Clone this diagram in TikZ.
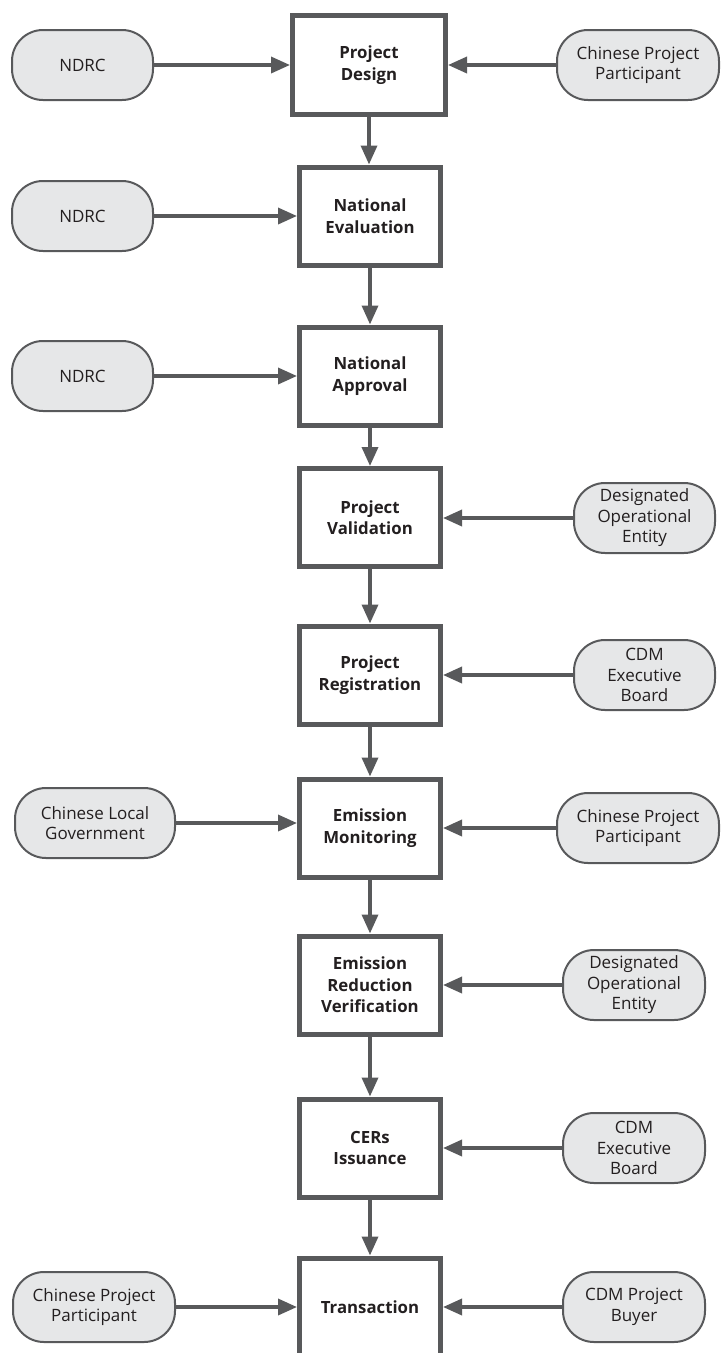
\documentclass[tikz,border=0pt]{standalone}
\usepackage{fontspec}
\setmainfont{Open Sans}
\usetikzlibrary{arrows.meta}
\definecolor{edgegray}{HTML}{58595B}
\definecolor{fillgray}{HTML}{E6E7E8}
\definecolor{txtgray}{HTML}{231F20}
\begin{document}
\begin{tikzpicture}[x=1pt,y=-1pt,
 stage/.style={draw=edgegray, line width=5pt, fill=white, minimum width=141pt, minimum height=98pt, inner sep=0pt, align=center, font=\fontsize{16.8}{21.5}\selectfont\bfseries, text=txtgray},
 actor/.style={draw=edgegray, line width=2pt, fill=fillgray, rounded corners=31pt, minimum width=141pt, minimum height=70pt, inner sep=0pt, align=center, font=\fontsize{17}{20.5}\selectfont, text=txtgray},
 flow/.style={draw=edgegray, line width=3.5pt, -{Triangle[length=19pt,width=16pt]}}
]
\useasboundingbox (0,0) rectangle (722,1353);
\clip (0,0) rectangle (722,1353);

% main stages
\node[stage, minimum width=153pt, minimum height=99pt] (s1) at (369,65) {Project\\Design};
\node[stage] (s2) at (370,216) {National\\Evaluation};
\node[stage] (s3) at (370,376) {National\\Approval};
\node[stage] (s4) at (370,517.5) {Project\\Validation};
\node[stage] (s5) at (370,675) {Project\\Registration};
\node[stage] (s6) at (370,828) {Emission\\Monitoring};
\node[stage] (s7) at (370,985) {Emission\\Reduction\\Verification};
\node[stage] (s8) at (370,1148) {CERs\\Issuance};
\node[stage] (s9) at (370,1307) {Transaction};

% actors
\node[actor] (a1) at (82.5,65) {NDRC};
\node[actor] (a2) at (82.5,216) {NDRC};
\node[actor] (a3) at (82.5,376) {NDRC};
\node[actor, minimum width=160pt] (a4) at (95,823) {Chinese Local\\Government};
\node[actor, minimum width=162pt] (a5) at (94,1307) {Chinese Project\\Participant};

\node[actor, minimum width=162pt] (b1) at (638,65) {Chinese Project\\Participant};
\node[actor] (b2) at (644.5,518) {Designated\\Operational\\Entity};
\node[actor] (b3) at (644.5,675) {CDM\\Executive\\Board};
\node[actor, minimum width=162pt] (b4) at (638,828) {Chinese Project\\Participant};
\node[actor, minimum width=142pt] (b5) at (634,985) {Designated\\Operational\\Entity};
\node[actor, minimum width=142pt] (b6) at (634,1148) {CDM\\Executive\\Board};
\node[actor, minimum width=142pt] (b7) at (634,1307) {CDM Project\\Buyer};

% vertical flow
\draw[flow] (s1.south) -- (s1.south |- s2.north);
\draw[flow] (s2.south) -- (s3.north);
\draw[flow] (s3.south) -- (s4.north);
\draw[flow] (s4.south) -- (s5.north);
\draw[flow] (s5.south) -- (s6.north);
\draw[flow] (s6.south) -- (s7.north);
\draw[flow] (s7.south) -- (s8.north);
\draw[flow] (s8.south) -- (s9.north);

% inputs
\draw[flow] (a1.east) -- (a1.east -| s1.west);
\draw[flow] (a2.east) -- (a2.east -| s2.west);
\draw[flow] (a3.east) -- (a3.east -| s3.west);
\draw[flow] (a4.east) -- (a4.east -| s6.west);
\draw[flow] (a5.east) -- (a5.east -| s9.west);
\draw[flow] (b1.west) -- (b1.west -| s1.east);
\draw[flow] (b2.west) -- (b2.west -| s4.east);
\draw[flow] (b3.west) -- (b3.west -| s5.east);
\draw[flow] (b4.west) -- (b4.west -| s6.east);
\draw[flow] (b5.west) -- (b5.west -| s7.east);
\draw[flow] (b6.west) -- (b6.west -| s8.east);
\draw[flow] (b7.west) -- (b7.west -| s9.east);
\end{tikzpicture}
\end{document}
